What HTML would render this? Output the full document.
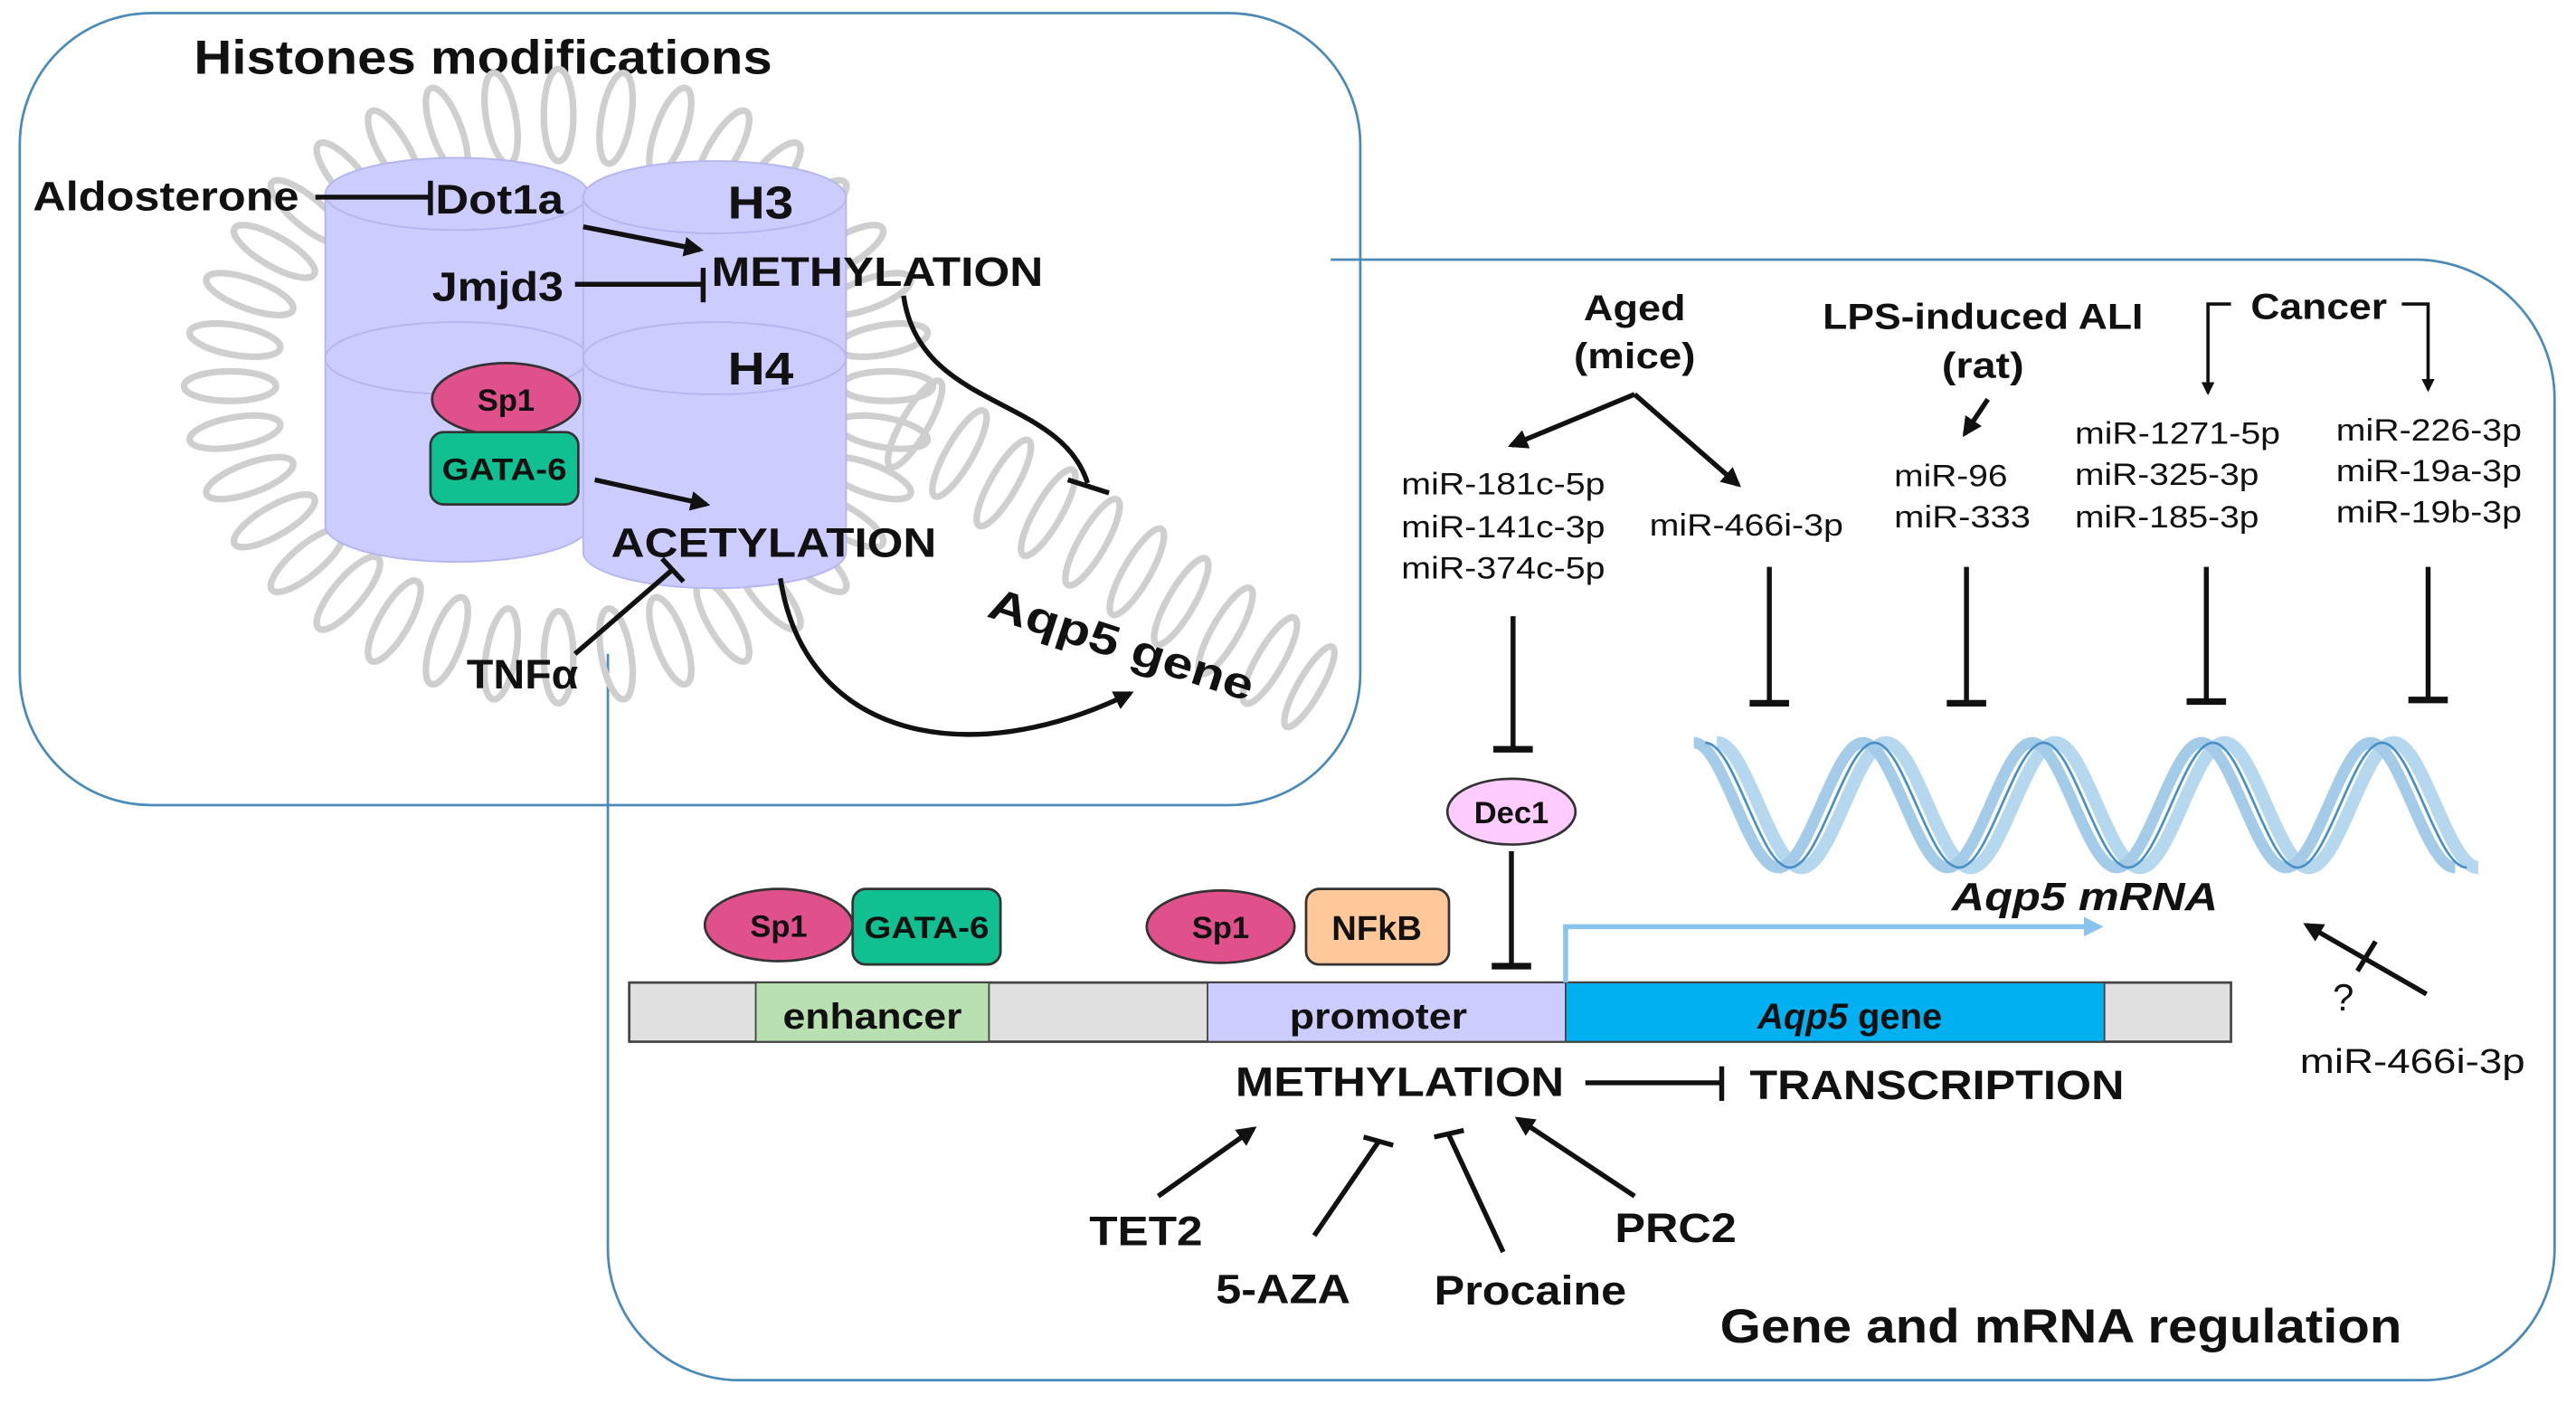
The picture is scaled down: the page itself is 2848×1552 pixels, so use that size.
<!DOCTYPE html>
<html><head><meta charset="utf-8"><style>
html,body{margin:0;padding:0;background:#fff;}
svg{display:block;}
text{font-family:"Liberation Sans",Arial,sans-serif;fill:#111;}
.b{font-weight:bold;}
</style></head><body>
<svg width="2848" height="1552" viewBox="0 0 1568 854.5" xmlns="http://www.w3.org/2000/svg">
<defs>
<marker id="ar" viewBox="0 0 10 10" refX="8" refY="5" markerWidth="4" markerHeight="4" orient="auto-start-reverse"><path d="M0,0 L10,5 L0,10 z" fill="#111"/></marker>
<marker id="arb" viewBox="0 0 10 10" refX="8" refY="5" markerWidth="4" markerHeight="4" orient="auto"><path d="M0,0 L10,5 L0,10 z" fill="#88c4ee"/></marker>
</defs>
<rect x="12" y="8" width="816" height="482" rx="80" fill="none" stroke="#4a8ab8" stroke-width="1.5"/>
<path d="M810,158 H1470 A85,85 0 0 1 1555,243 V760 A80,80 0 0 1 1475,840 H450 A80,80 0 0 1 370,760 V398" fill="none" stroke="#4a8ab8" stroke-width="1.5"/>
<text x="118" y="45" class="b" font-size="29" textLength="352" lengthAdjust="spacingAndGlyphs">Histones modifications</text>
<!-- grey DNA -->
<g fill="none" stroke="#cfcfcf" stroke-width="4">
<ellipse cx="540" cy="235" rx="28" ry="9" transform="rotate(0 540 235)"/>
<ellipse cx="537" cy="263" rx="28" ry="9" transform="rotate(10 537 263)"/>
<ellipse cx="528" cy="291" rx="28" ry="9" transform="rotate(20 528 291)"/>
<ellipse cx="513" cy="317" rx="28" ry="9" transform="rotate(30 513 317)"/>
<ellipse cx="493" cy="341" rx="28" ry="9" transform="rotate(40 493 341)"/>
<ellipse cx="468" cy="361" rx="28" ry="9" transform="rotate(50 468 361)"/>
<ellipse cx="440" cy="378" rx="28" ry="9" transform="rotate(60 440 378)"/>
<ellipse cx="408" cy="390" rx="28" ry="9" transform="rotate(70 408 390)"/>
<ellipse cx="375" cy="398" rx="28" ry="9" transform="rotate(80 375 398)"/>
<ellipse cx="340" cy="400" rx="28" ry="9" transform="rotate(90 340 400)"/>
<ellipse cx="305" cy="398" rx="28" ry="9" transform="rotate(100 305 398)"/>
<ellipse cx="272" cy="390" rx="28" ry="9" transform="rotate(110 272 390)"/>
<ellipse cx="240" cy="378" rx="28" ry="9" transform="rotate(120 240 378)"/>
<ellipse cx="212" cy="361" rx="28" ry="9" transform="rotate(130 212 361)"/>
<ellipse cx="187" cy="341" rx="28" ry="9" transform="rotate(140 187 341)"/>
<ellipse cx="167" cy="317" rx="28" ry="9" transform="rotate(150 167 317)"/>
<ellipse cx="152" cy="291" rx="28" ry="9" transform="rotate(160 152 291)"/>
<ellipse cx="143" cy="263" rx="28" ry="9" transform="rotate(170 143 263)"/>
<ellipse cx="140" cy="235" rx="28" ry="9" transform="rotate(180 140 235)"/>
<ellipse cx="143" cy="207" rx="28" ry="9" transform="rotate(190 143 207)"/>
<ellipse cx="152" cy="179" rx="28" ry="9" transform="rotate(200 152 179)"/>
<ellipse cx="167" cy="153" rx="28" ry="9" transform="rotate(210 167 153)"/>
<ellipse cx="187" cy="129" rx="28" ry="9" transform="rotate(220 187 129)"/>
<ellipse cx="212" cy="109" rx="28" ry="9" transform="rotate(230 212 109)"/>
<ellipse cx="240" cy="92" rx="28" ry="9" transform="rotate(240 240 92)"/>
<ellipse cx="272" cy="80" rx="28" ry="9" transform="rotate(250 272 80)"/>
<ellipse cx="305" cy="72" rx="28" ry="9" transform="rotate(260 305 72)"/>
<ellipse cx="340" cy="70" rx="28" ry="9" transform="rotate(270 340 70)"/>
<ellipse cx="375" cy="72" rx="28" ry="9" transform="rotate(280 375 72)"/>
<ellipse cx="408" cy="80" rx="28" ry="9" transform="rotate(290 408 80)"/>
<ellipse cx="440" cy="92" rx="28" ry="9" transform="rotate(300 440 92)"/>
<ellipse cx="468" cy="109" rx="28" ry="9" transform="rotate(310 468 109)"/>
<ellipse cx="493" cy="129" rx="28" ry="9" transform="rotate(320 493 129)"/>
<ellipse cx="513" cy="153" rx="28" ry="9" transform="rotate(330 513 153)"/>
<ellipse cx="528" cy="179" rx="28" ry="9" transform="rotate(340 528 179)"/>
<ellipse cx="537" cy="207" rx="28" ry="9" transform="rotate(350 537 207)"/>
<ellipse cx="557" cy="258" rx="30" ry="8" transform="rotate(-60 557 258)"/>
<ellipse cx="584" cy="276" rx="30" ry="8" transform="rotate(-60 584 276)"/>
<ellipse cx="611" cy="294" rx="30" ry="8" transform="rotate(-60 611 294)"/>
<ellipse cx="638" cy="312" rx="30" ry="8" transform="rotate(-60 638 312)"/>
<ellipse cx="665" cy="330" rx="30" ry="8" transform="rotate(-60 665 330)"/>
<ellipse cx="692" cy="348" rx="30" ry="8" transform="rotate(-60 692 348)"/>
<ellipse cx="719" cy="366" rx="30" ry="8" transform="rotate(-60 719 366)"/>
<ellipse cx="746" cy="384" rx="30" ry="8" transform="rotate(-60 746 384)"/>
<ellipse cx="773" cy="402" rx="30" ry="8" transform="rotate(-60 773 402)"/>
<ellipse cx="797" cy="418" rx="28" ry="7" transform="rotate(-60 797 418)"/>
</g>
<g fill="#ccccff" stroke="#b4b4f0" stroke-width="1">
<path d="M198,118 V320 A80,22 0 0 0 358,320 V118 Z"/>
<ellipse cx="278" cy="118" rx="80" ry="22"/>
<ellipse cx="278" cy="218" rx="80" ry="22" fill="none"/>
<path d="M355,120 V336 A80,22 0 0 0 515,336 V120 Z"/>
<ellipse cx="435" cy="120" rx="80" ry="22"/>
<ellipse cx="435" cy="218" rx="80" ry="22" fill="none"/>
</g>
<text x="443" y="133" class="b" font-size="28" textLength="40" lengthAdjust="spacingAndGlyphs">H3</text>
<text x="443" y="234" class="b" font-size="28" textLength="40" lengthAdjust="spacingAndGlyphs">H4</text>
<text x="20" y="128" class="b" font-size="25" textLength="162" lengthAdjust="spacingAndGlyphs">Aldosterone</text>
<line x1="192" y1="120" x2="261" y2="120" stroke="#111" stroke-width="3"/>
<line x1="262" y1="110" x2="262" y2="131" stroke="#111" stroke-width="3"/>
<text x="265" y="130" class="b" font-size="25" textLength="78" lengthAdjust="spacingAndGlyphs">Dot1a</text>
<line x1="355" y1="138" x2="426" y2="152" stroke="#111" stroke-width="3" marker-end="url(#ar)"/>
<text x="263" y="183" class="b" font-size="25" textLength="80" lengthAdjust="spacingAndGlyphs">Jmjd3</text>
<line x1="350" y1="173" x2="427" y2="173" stroke="#111" stroke-width="3"/>
<line x1="428" y1="163" x2="428" y2="184" stroke="#111" stroke-width="3"/>
<text x="433" y="174" class="b" font-size="25" textLength="202" lengthAdjust="spacingAndGlyphs">METHYLATION</text>
<ellipse cx="308" cy="243" rx="45" ry="22" fill="#e0508a" stroke="#333" stroke-width="1.5"/>
<text x="308" y="250" class="b" font-size="19" text-anchor="middle">Sp1</text>
<rect x="262" y="263" width="90" height="44" rx="8" fill="#10c090" stroke="#333" stroke-width="1.5"/>
<text x="307" y="292" class="b" font-size="19" text-anchor="middle" textLength="76" lengthAdjust="spacingAndGlyphs">GATA-6</text>
<line x1="362" y1="292" x2="430" y2="307" stroke="#111" stroke-width="3" marker-end="url(#ar)"/>
<text x="372" y="339" class="b" font-size="25" textLength="198" lengthAdjust="spacingAndGlyphs">ACETYLATION</text>
<line x1="350" y1="398" x2="409" y2="347" stroke="#111" stroke-width="3"/>
<line x1="403" y1="340" x2="416" y2="354" stroke="#111" stroke-width="3"/>
<text x="284" y="419" class="b" font-size="25" textLength="68" lengthAdjust="spacingAndGlyphs">TNFα</text>
<path d="M550,180 C560,250 645,240 662,294" fill="none" stroke="#111" stroke-width="3"/>
<line x1="650" y1="292" x2="675" y2="300" stroke="#111" stroke-width="3"/>
<path d="M475,352 C490,450 590,470 688,422" fill="none" stroke="#111" stroke-width="3" marker-end="url(#ar)"/>
<text x="600" y="375" class="b" font-size="27" transform="rotate(18 600 375)" textLength="168" lengthAdjust="spacingAndGlyphs">Aqp5 gene</text>

<text x="995" y="195" class="b" font-size="22" text-anchor="middle" textLength="62" lengthAdjust="spacingAndGlyphs">Aged</text>
<text x="995" y="224" class="b" font-size="22" text-anchor="middle" textLength="74" lengthAdjust="spacingAndGlyphs">(mice)</text>
<line x1="995" y1="240" x2="920" y2="271" stroke="#111" stroke-width="3" marker-end="url(#ar)"/>
<line x1="995" y1="240" x2="1058" y2="295" stroke="#111" stroke-width="3" marker-end="url(#ar)"/>
<g font-size="19">
<text x="853" y="301" textLength="124" lengthAdjust="spacingAndGlyphs">miR-181c-5p</text>
<text x="853" y="327" textLength="124" lengthAdjust="spacingAndGlyphs">miR-141c-3p</text>
<text x="853" y="352" textLength="124" lengthAdjust="spacingAndGlyphs">miR-374c-5p</text>
<text x="1004" y="326" textLength="118" lengthAdjust="spacingAndGlyphs">miR-466i-3p</text>
<text x="1153" y="296" textLength="69" lengthAdjust="spacingAndGlyphs">miR-96</text>
<text x="1153" y="321" textLength="83" lengthAdjust="spacingAndGlyphs">miR-333</text>
<text x="1263" y="270" textLength="125" lengthAdjust="spacingAndGlyphs">miR-1271-5p</text>
<text x="1263" y="295" textLength="112" lengthAdjust="spacingAndGlyphs">miR-325-3p</text>
<text x="1263" y="321" textLength="112" lengthAdjust="spacingAndGlyphs">miR-185-3p</text>
<text x="1422" y="268" textLength="113" lengthAdjust="spacingAndGlyphs">miR-226-3p</text>
<text x="1422" y="293" textLength="113" lengthAdjust="spacingAndGlyphs">miR-19a-3p</text>
<text x="1422" y="318" textLength="113" lengthAdjust="spacingAndGlyphs">miR-19b-3p</text>
<text x="1400" y="653" font-size="21" textLength="137" lengthAdjust="spacingAndGlyphs">miR-466i-3p</text>
</g>
<text x="1207" y="200" class="b" font-size="22" text-anchor="middle" textLength="195" lengthAdjust="spacingAndGlyphs">LPS-induced ALI</text>
<text x="1207" y="230" class="b" font-size="22" text-anchor="middle" textLength="50" lengthAdjust="spacingAndGlyphs">(rat)</text>
<line x1="1210" y1="243" x2="1196" y2="264" stroke="#111" stroke-width="3" marker-end="url(#ar)"/>
<text x="1370" y="194" class="b" font-size="22" textLength="83" lengthAdjust="spacingAndGlyphs">Cancer</text>
<path d="M1358,185 H1344 V239" fill="none" stroke="#111" stroke-width="2" marker-end="url(#ar)"/>
<path d="M1462,185 H1478 V237" fill="none" stroke="#111" stroke-width="2" marker-end="url(#ar)"/>
<g stroke="#111" stroke-width="3">
<line x1="921" y1="375" x2="921" y2="456"/><line x1="909" y1="456" x2="933" y2="456" stroke-width="4"/>
<line x1="1077" y1="345" x2="1077" y2="428"/><line x1="1065" y1="428" x2="1089" y2="428" stroke-width="4"/>
<line x1="1197" y1="345" x2="1197" y2="428"/><line x1="1185" y1="428" x2="1209" y2="428" stroke-width="4"/>
<line x1="1343" y1="345" x2="1343" y2="427"/><line x1="1331" y1="427" x2="1355" y2="427" stroke-width="4"/>
<line x1="1478" y1="345" x2="1478" y2="426"/><line x1="1466" y1="426" x2="1490" y2="426" stroke-width="4"/>
<line x1="920" y1="518" x2="920" y2="588"/><line x1="908" y1="588" x2="932" y2="588" stroke-width="4"/>
</g>
<ellipse cx="920" cy="494" rx="39" ry="20" fill="#ffccff" stroke="#333" stroke-width="1.5"/>
<text x="920" y="501" class="b" font-size="19" text-anchor="middle">Dec1</text>
<g fill="none">
<path d="M1045,452 C1063,452 1078,528 1096.5,528 S1130,452 1148,452 S1181,528 1199.5,528 S1233,452 1251,452 S1284,528 1302.5,528 S1336,452 1354,452 S1387,528 1405.5,528 S1439,452 1457,452 S1490,528 1508.5,528" stroke="#b5d8ef" stroke-width="8"/>
<path d="M1045,452 C1063,452 1078,528 1096.5,528 S1130,452 1148,452 S1181,528 1199.5,528 S1233,452 1251,452 S1284,528 1302.5,528 S1336,452 1354,452 S1387,528 1405.5,528 S1439,452 1457,452 S1490,528 1508.5,528" stroke="#a4cce8" stroke-width="7" transform="translate(-14,0)"/>
<path d="M1045,452 C1063,452 1078,528 1096.5,528 S1130,452 1148,452 S1181,528 1199.5,528 S1233,452 1251,452 S1284,528 1302.5,528 S1336,452 1354,452 S1387,528 1405.5,528 S1439,452 1457,452 S1490,528 1508.5,528" stroke="#4a90c8" stroke-width="1.5" transform="translate(-7,0)"/>
</g>
<text x="1188" y="554" class="b" font-size="24" font-style="italic" textLength="162" lengthAdjust="spacingAndGlyphs">Aqp5 mRNA</text>
<rect x="383" y="598" width="975" height="36" fill="#e0e0e0" stroke="#444" stroke-width="1.5"/>
<rect x="460" y="598" width="142" height="36" fill="#b8e0b0" stroke="#444" stroke-width="1"/>
<rect x="735" y="598" width="218" height="36" fill="#ccccff" stroke="#444" stroke-width="1"/>
<rect x="953" y="598" width="328" height="36" fill="#00b0f0" stroke="#444" stroke-width="1"/>
<text x="531" y="626" class="b" font-size="22" text-anchor="middle" textLength="109" lengthAdjust="spacingAndGlyphs">enhancer</text>
<text x="839" y="626" class="b" font-size="22" text-anchor="middle" textLength="108" lengthAdjust="spacingAndGlyphs">promoter</text>
<text x="1126" y="626" class="b" font-size="22" text-anchor="middle"><tspan font-style="italic">Aqp5</tspan> gene</text>
<path d="M953,598 V564 H1278" fill="none" stroke="#88c4ee" stroke-width="3" marker-end="url(#arb)"/>
<ellipse cx="474" cy="563" rx="45" ry="22" fill="#e0508a" stroke="#333" stroke-width="1.5"/>
<text x="474" y="570" class="b" font-size="19" text-anchor="middle">Sp1</text>
<rect x="519" y="541" width="90" height="46" rx="8" fill="#10c090" stroke="#333" stroke-width="1.5"/>
<text x="564" y="571" class="b" font-size="19" text-anchor="middle" textLength="76" lengthAdjust="spacingAndGlyphs">GATA-6</text>
<ellipse cx="743" cy="564" rx="45" ry="22" fill="#e0508a" stroke="#333" stroke-width="1.5"/>
<text x="743" y="571" class="b" font-size="19" text-anchor="middle">Sp1</text>
<rect x="795" y="541" width="87" height="46" rx="8" fill="#ffc89a" stroke="#333" stroke-width="1.5"/>
<text x="838" y="572" class="b" font-size="21" text-anchor="middle">NFkB</text>
<text x="752" y="667" class="b" font-size="25" textLength="200" lengthAdjust="spacingAndGlyphs">METHYLATION</text>
<text x="1065" y="669" class="b" font-size="25" textLength="228" lengthAdjust="spacingAndGlyphs">TRANSCRIPTION</text>
<line x1="965" y1="659" x2="1047" y2="659" stroke="#111" stroke-width="3"/>
<line x1="1048" y1="649" x2="1048" y2="670" stroke="#111" stroke-width="3"/>
<line x1="705" y1="728" x2="763" y2="687" stroke="#111" stroke-width="3" marker-end="url(#ar)"/>
<text x="663" y="758" class="b" font-size="25" textLength="69" lengthAdjust="spacingAndGlyphs">TET2</text>
<line x1="800" y1="752" x2="839" y2="695" stroke="#111" stroke-width="3"/>
<line x1="830" y1="692" x2="848" y2="697" stroke="#111" stroke-width="3"/>
<text x="740" y="793" class="b" font-size="25" textLength="82" lengthAdjust="spacingAndGlyphs">5-AZA</text>
<line x1="915" y1="762" x2="882" y2="691" stroke="#111" stroke-width="3"/>
<line x1="873" y1="692" x2="891" y2="688" stroke="#111" stroke-width="3"/>
<text x="873" y="794" class="b" font-size="25" textLength="117" lengthAdjust="spacingAndGlyphs">Procaine</text>
<line x1="995" y1="728" x2="924" y2="681" stroke="#111" stroke-width="3" marker-end="url(#ar)"/>
<text x="983" y="756" class="b" font-size="25" textLength="74" lengthAdjust="spacingAndGlyphs">PRC2</text>
<line x1="1477" y1="605" x2="1404" y2="563" stroke="#111" stroke-width="3" marker-end="url(#ar)"/>
<line x1="1435" y1="591" x2="1446" y2="573" stroke="#111" stroke-width="3"/>
<text x="1420" y="615" font-size="23">?</text>
<text x="1047" y="817" class="b" font-size="29" textLength="415" lengthAdjust="spacingAndGlyphs">Gene and mRNA regulation</text>
</svg>
</body></html>
